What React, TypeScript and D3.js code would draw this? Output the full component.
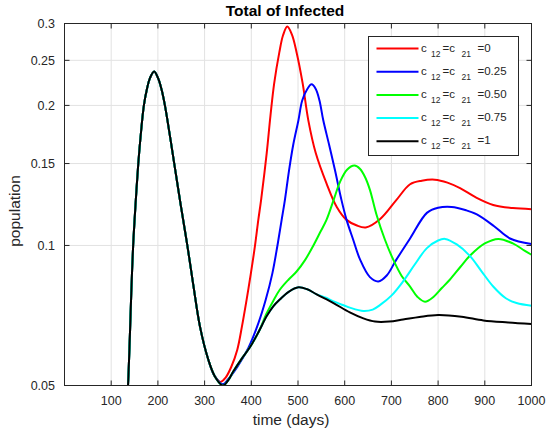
import React from 'react';
import * as d3 from 'd3';

type P = [number, number];

const xTicks = [100, 200, 300, 400, 500, 600, 700, 800, 900, 1000];
const yTicks = [0.05, 0.1, 0.15, 0.2, 0.25, 0.3];
const yTickLabels = ['0.05', '0.1', '0.15', '0.2', '0.25', '0.3'];

// shared first wave (all scenarios coincide)
const commonWave: P[] = [
  [120, 0.03], [128, 0.038], [133, 0.045], [136, 0.05], [140, 0.064], [143, 0.079],
  [147, 0.1], [152, 0.122], [158, 0.15], [164, 0.176], [170, 0.2], [177, 0.218],
  [183, 0.229], [192, 0.2365], [201, 0.228], [208, 0.216], [215, 0.2], [225, 0.174],
  [235, 0.15], [249, 0.122], [263, 0.1], [276, 0.082], [290, 0.067], [308, 0.0568],
  [322, 0.0523],
];

const blackTail: P[] = [
  [339, 0.05], [350, 0.0512], [361, 0.0535], [380, 0.0572], [397, 0.0604], [415, 0.065],
  [433, 0.0705], [447, 0.074], [461, 0.0765], [480, 0.0795], [501, 0.0813], [520, 0.0805],
  [540, 0.0785], [576, 0.0752], [611, 0.0718], [640, 0.0697], [665, 0.0686], [695, 0.0686],
  [725, 0.0693], [760, 0.0702], [800, 0.0709], [850, 0.0703], [897, 0.069], [950, 0.0683],
  [1000, 0.0678],
];

const cyanTail: P[] = [
  [560, 0.0772], [576, 0.0758], [600, 0.0742], [611, 0.0735], [640, 0.0723], [660, 0.0728],
  [676, 0.0745], [700, 0.078], [725, 0.0837], [750, 0.091], [776, 0.0987], [800, 0.1025],
  [815, 0.1033], [840, 0.1005], [868, 0.095], [893, 0.088], [918, 0.0816], [945, 0.077],
  [968, 0.0752], [1000, 0.0742],
];

const greenTail: P[] = [
  [433, 0.0715], [447, 0.076], [461, 0.0803], [480, 0.0845], [497, 0.0879], [515, 0.093],
  [533, 0.1], [548, 0.107], [561, 0.1135], [576, 0.125], [590, 0.137], [605, 0.1455],
  [621, 0.1485], [633, 0.146], [644, 0.14], [654, 0.1317], [668, 0.1166], [686, 0.103],
  [704, 0.0932], [722, 0.086], [740, 0.0816], [756, 0.0775], [772, 0.0757], [790, 0.0775],
  [808, 0.081], [825, 0.0844], [848, 0.09], [868, 0.095], [900, 0.101], [929, 0.1033],
  [960, 0.101], [985, 0.0975], [1000, 0.0955],
];

const blueTail: P[] = [
  [339, 0.0503], [350, 0.0515], [370, 0.0548], [394, 0.0603], [415, 0.068], [431, 0.0765],
  [445, 0.087], [456, 0.1], [465, 0.1135], [472, 0.1253], [481, 0.1454], [490, 0.165],
  [501, 0.186], [509, 0.205], [520, 0.217], [529, 0.222], [538, 0.217], [546, 0.205],
  [554, 0.186], [567, 0.164], [579, 0.1454], [593, 0.1253], [604, 0.1135], [618, 0.103],
  [633, 0.0932], [654, 0.0855], [672, 0.0837], [690, 0.0862], [710, 0.093], [740, 0.1035],
  [776, 0.1175], [800, 0.1205], [829, 0.121], [860, 0.119], [883, 0.1166], [920, 0.11],
  [954, 0.1035], [1000, 0.1007],
];

const redTail: P[] = [
  [334, 0.0509], [345, 0.052], [357, 0.0548], [370, 0.0597], [380, 0.067], [390, 0.0765],
  [399, 0.087], [408, 0.1], [415, 0.1135], [421, 0.1253], [433, 0.158], [441, 0.19],
  [449, 0.223], [460, 0.26], [468, 0.283], [477, 0.2955], [487, 0.284], [497, 0.26],
  [510, 0.223], [522, 0.186], [538, 0.158], [561, 0.136], [583, 0.121], [604, 0.1135],
  [625, 0.1105], [645, 0.1093], [676, 0.114], [710, 0.125], [740, 0.1354], [765, 0.1378],
  [793, 0.1385], [820, 0.1365], [847, 0.1328], [880, 0.127], [918, 0.1222], [960, 0.1203],
  [1000, 0.1197],
];

const legendLabels = ['0', '0.25', '0.50', '0.75', '1'];
const seriesColors = ['#ff0000', '#0000ff', '#00ff00', '#00ffff', '#000000'];

const seriesData: P[][] = [
  commonWave.concat(redTail),
  commonWave.concat(blueTail),
  commonWave.concat(blackTail.filter((d) => d[0] <= 415), greenTail),
  commonWave.concat(blackTail.filter((d) => d[0] <= 540), cyanTail),
  commonWave.concat(blackTail),
];

const W = 546;
const H = 435;
const left = 64.5;
const right = 531.5;
const top = 23.5;
const bottom = 385.5;
const font = "'Liberation Sans', Arial, Helvetica, sans-serif";
const axisColor = '#262626';

export default function App() {
  const x = d3.scaleLinear().domain([0, 1000]).range([left, right]);
  const y = d3.scaleLog().domain([0.05, 0.3]).range([bottom, top]);
  const line = d3
    .line<P>()
    .x((d) => x(d[0]))
    .y((d) => y(d[1]))
    .curve(d3.curveCatmullRom.alpha(0.5));

  const tickLen = 5;
  const legX = 368.5;
  const legY = 36.5;
  const legW = 150;
  const legH = 119;
  const rowY = (i: number) => 48.5 + i * 23.2;

  return (
    <svg width={W} height={H} style={{ position: 'absolute', left: 0, top: 0, background: '#fff' }}>
      <defs>
        <clipPath id="plotClip">
          <rect x={left} y={top} width={right - left} height={bottom - top} />
        </clipPath>
      </defs>
      <rect x={left} y={top} width={right - left} height={bottom - top} fill="#fff" />
      {/* grid */}
      {xTicks.map((t) => (
        <line key={'gx' + t} x1={x(t)} x2={x(t)} y1={top} y2={bottom} stroke="#e2e2e2" strokeWidth={1} />
      ))}
      {yTicks.map((t) => (
        <line key={'gy' + t} x1={left} x2={right} y1={y(t)} y2={y(t)} stroke="#e2e2e2" strokeWidth={1} />
      ))}
      {/* series */}
      <g clipPath="url(#plotClip)">
        {seriesData.map((d, i) => (
          <path key={'s' + i} d={line(d) || ''} fill="none" stroke={seriesColors[i]} strokeWidth={2} strokeLinejoin="round" />
        ))}
      </g>
      {/* box */}
      <rect x={left} y={top} width={right - left} height={bottom - top} fill="none" stroke={axisColor} strokeWidth={1} />
      {/* ticks */}
      {xTicks.map((t) => (
        <g key={'tx' + t}>
          <line x1={x(t)} x2={x(t)} y1={bottom} y2={bottom - tickLen} stroke={axisColor} />
          <line x1={x(t)} x2={x(t)} y1={top} y2={top + tickLen} stroke={axisColor} />
          <text x={x(t)} y={405} textAnchor="middle" fontFamily={font} fontSize={12.5} fill={axisColor}>
            {t}
          </text>
        </g>
      ))}
      {yTicks.map((t, i) => (
        <g key={'ty' + t}>
          <line x1={left} x2={left + tickLen} y1={y(t)} y2={y(t)} stroke={axisColor} />
          <line x1={right} x2={right - tickLen} y1={y(t)} y2={y(t)} stroke={axisColor} />
          <text x={55} y={y(t) + 4.5} textAnchor="end" fontFamily={font} fontSize={12.5} fill={axisColor}>
            {yTickLabels[i]}
          </text>
        </g>
      ))}
      {/* title and labels */}
      <text x={285} y={16} textAnchor="middle" fontFamily={font} fontSize={15.5} fontWeight="bold" fill="#000">
        Total of Infected
      </text>
      <text x={291} y={425} textAnchor="middle" fontFamily={font} fontSize={15.5} fill={axisColor}>
        time (days)
      </text>
      <text
        transform={`translate(20,211) rotate(-90)`}
        textAnchor="middle"
        fontFamily={font}
        fontSize={15.5}
        fill={axisColor}
      >
        population
      </text>
      {/* legend */}
      <rect x={legX} y={legY} width={legW} height={legH} fill="#fff" stroke={axisColor} strokeWidth={1} />
      {legendLabels.map((lab, i) => {
        const ry = rowY(i);
        return (
          <g key={'leg' + i}>
            <line x1={376.5} x2={418.5} y1={ry} y2={ry} stroke={seriesColors[i]} strokeWidth={2} />
            <text fontFamily={font} fill={axisColor}>
              <tspan x={421} y={ry + 3} fontSize={11.5}>c</tspan>
              <tspan x={431} y={ry + 8} fontSize={8.5}>12</tspan>
              <tspan x={442.5} y={ry + 3} fontSize={11.5}>=c</tspan>
              <tspan x={461.5} y={ry + 8} fontSize={8.5}>21</tspan>
              <tspan x={477.5} y={ry + 3} fontSize={11.5}>{'=' + lab}</tspan>
            </text>
          </g>
        );
      })}
    </svg>
  );
}
